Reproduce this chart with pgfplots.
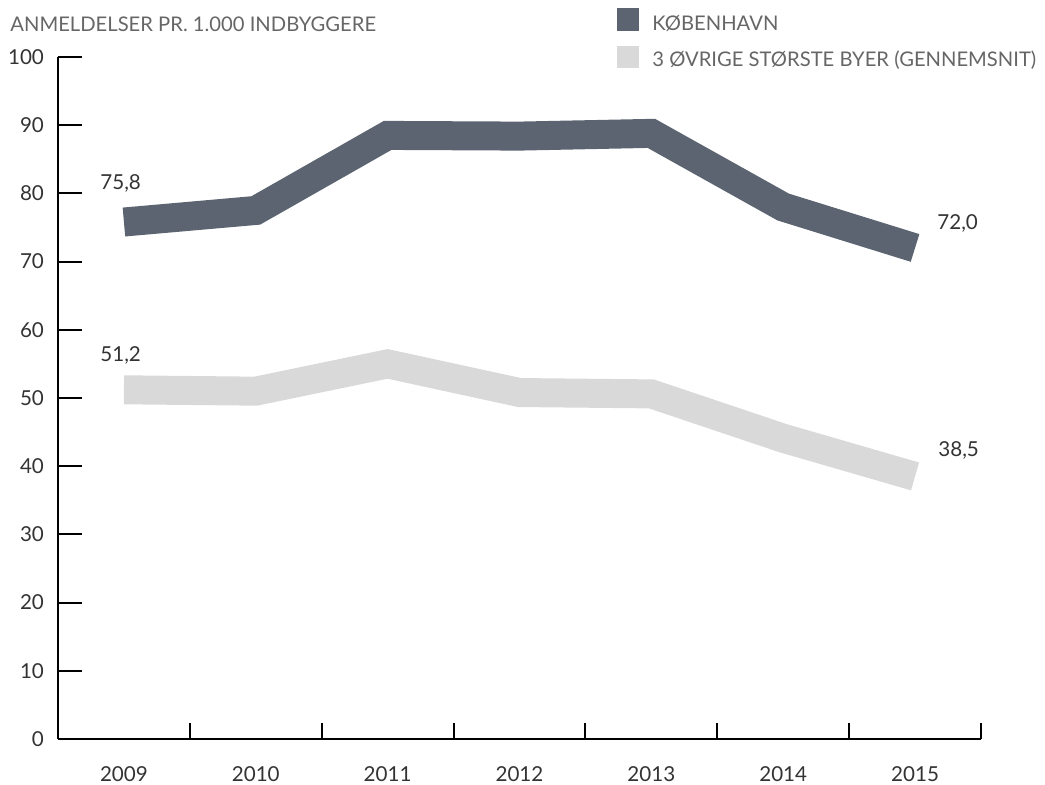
\documentclass[border=0pt]{standalone}
\usepackage{pgfplots}
\pgfplotsset{compat=1.18}
\usepackage{fontspec}
\setmainfont{Lato}
\definecolor{kbh}{HTML}{5B6470}
\definecolor{oev}{HTML}{D9D9D9}
\definecolor{titlegray}{HTML}{666666}
\definecolor{ticktxt}{HTML}{333333}
\begin{document}
\begin{tikzpicture}
\useasboundingbox (0,0) rectangle (522.5pt,392.5pt);
\begin{axis}[
  at={(29pt,23pt)}, anchor=south west,
  scale only axis, width=461.5pt, height=341pt,
  axis lines*=left,
  axis line style={line width=1pt, black},
  xmin=-0.5, xmax=6.5, ymin=0, ymax=100,
  xtick={-0.5,0.5,...,6.5},
  xticklabels={2009,2010,2011,2012,2013,2014,2015},
  x tick label as interval,
  ytick={0,10,...,100},
  tick align=inside,
  xtick style={line width=1pt, black, /pgfplots/major tick length=8pt},
  ytick style={line width=1pt, black, /pgfplots/major tick length=12pt},
  tick label style={font=\fontsize{10.3}{12}\selectfont, text=ticktxt},
  yticklabel style={anchor=east, xshift=-3.5pt},
  xticklabel style={yshift=-10.5pt},
  /pgf/number format/assume math mode=true,
  clip=false,
]
\addplot[line width=14.5pt, color=kbh, line join=miter, line cap=butt]
  coordinates {(0,75.8) (1,77.5) (2,88.5) (3,88.4) (4,88.8) (5,78.0) (6,72.0)};
\addplot[line width=14.5pt, color=oev, line join=miter, line cap=butt]
  coordinates {(0,51.2) (1,51.0) (2,55.0) (3,50.8) (4,50.6) (5,44.1) (6,38.5)};
\end{axis}
\node[anchor=base west, inner sep=0, text=titlegray, font=\fontsize{10.1}{12}\selectfont] at (5pt,376.5pt) {ANMELDELSER PR. 1.000 INDBYGGERE};
\fill[kbh] (308.5pt,377pt) rectangle (319.5pt,388.5pt);
\fill[oev] (308.5pt,358.5pt) rectangle (319.5pt,369.5pt);
\node[anchor=base west, inner sep=0, text=titlegray, font=\fontsize{10.1}{12}\selectfont] at (326pt,377pt) {KØBENHAVN};
\node[anchor=base west, inner sep=0, text=titlegray, font=\fontsize{10.1}{12}\selectfont] at (326pt,359pt) {3 ØVRIGE STØRSTE BYER (GENNEMSNIT)};
\node[anchor=base west, inner sep=0, text=ticktxt, font=\fontsize{10.3}{12}\selectfont] at (50pt,297.5pt) {75,8};
\node[anchor=base west, inner sep=0, text=ticktxt, font=\fontsize{10.3}{12}\selectfont] at (50pt,211.5pt) {51,2};
\node[anchor=base west, inner sep=0, text=ticktxt, font=\fontsize{10.3}{12}\selectfont] at (468.5pt,277.5pt) {72,0};
\node[anchor=base west, inner sep=0, text=ticktxt, font=\fontsize{10.3}{12}\selectfont] at (469pt,164pt) {38,5};
\end{tikzpicture}
\end{document}
